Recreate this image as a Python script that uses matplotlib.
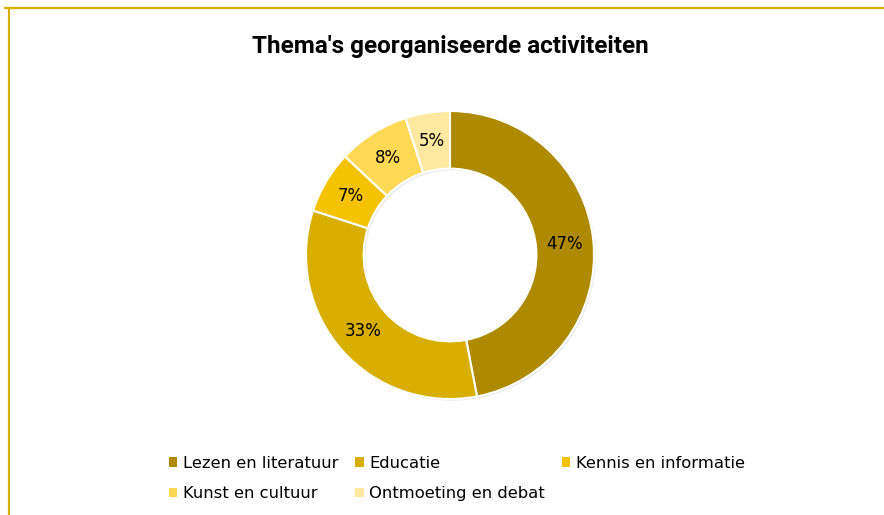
import matplotlib.pyplot as plt
import matplotlib.patheffects as pe
from matplotlib.patches import Patch
from matplotlib.lines import Line2D

# Data
categories = ['Lezen en literatuur', 'Educatie', 'Kennis en informatie',
              'Kunst en cultuur', 'Ontmoeting en debat']
shares = [47, 33, 7, 8, 5]
colors = ['#AD8A00', '#D8AF00', '#F5C200', '#FFD855', '#FFE8A0']

fig = plt.figure(figsize=(8.84, 5.15), dpi=100)

# Gold frame lines (top and left)
fig.add_artist(Line2D([5 / 884, 1], [1 - 7.5 / 515, 1 - 7.5 / 515],
                      color='#D8AF00', lw=1.6, transform=fig.transFigure))
fig.add_artist(Line2D([8.5 / 884, 8.5 / 884], [0, 1 - 7.5 / 515],
                      color='#D8AF00', lw=1.6, transform=fig.transFigure))

fig.text(450 / 884, 1 - 46 / 515, "Thema's georganiseerde activiteiten",
         ha='center', va='center', fontsize=17.5, fontweight='bold',
         family='Roboto')

# Donut
ax = fig.add_axes([306 / 884, 116 / 515, 288 / 884, 288 / 515])
wedges, texts, autotexts = ax.pie(
    shares, colors=colors, startangle=90, counterclock=False,
    wedgeprops=dict(width=0.4, edgecolor='white', linewidth=1.5),
    autopct='%1.0f%%', pctdistance=0.8,
    textprops=dict(fontsize=12, color='black'))
for w in wedges:
    w.set_clip_on(False)
    w.set_path_effects([pe.SimplePatchShadow(offset=(1.2, -1.2), alpha=0.18,
                                             shadow_rgbFace='gray'),
                        pe.Normal()])
ax.set_xlim(-1, 1)
ax.set_ylim(-1, 1)
ax.set_aspect('equal')
ax.axis('off')

# Legend with small square markers, filled row by row
handles = [Patch(facecolor=c, edgecolor='none') for c in colors]
order = [0, 3, 1, 4, 2]
fig.legend([handles[i] for i in order], [categories[i] for i in order],
           ncol=3, loc='upper left',
           bbox_to_anchor=(154 / 884, 1 - 441 / 515), frameon=False,
           fontsize=11.8, handlelength=0.5, handleheight=0.5,
           handletextpad=0.35, columnspacing=1.05, labelspacing=0.95)

fig.savefig('out.png', dpi=100)
